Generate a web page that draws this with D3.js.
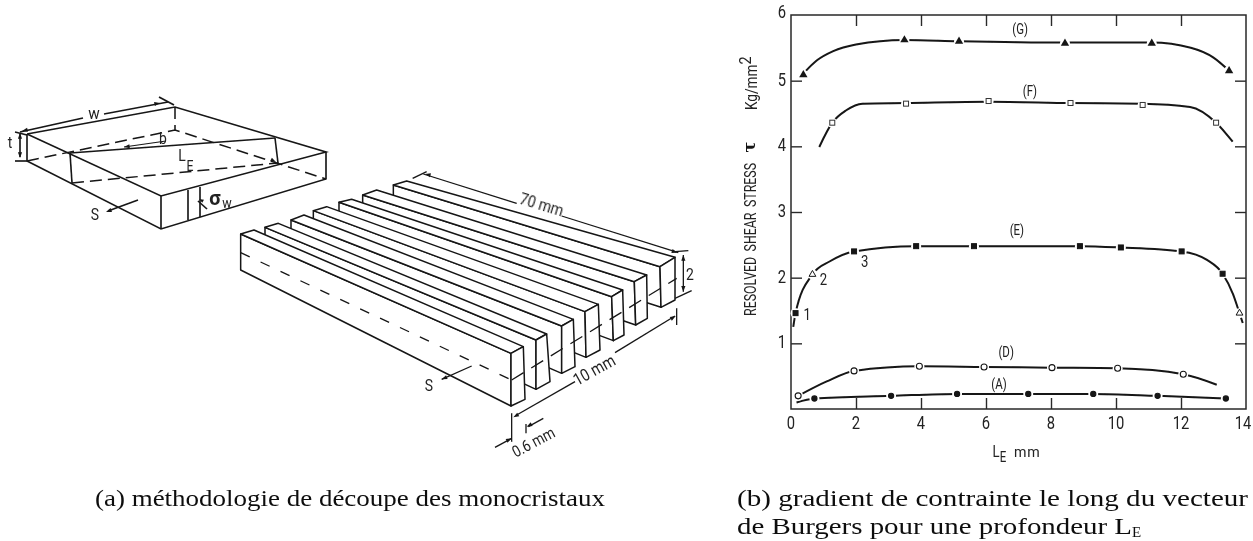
<!DOCTYPE html>
<html><head><meta charset="utf-8">
<script src="https://cdn.jsdelivr.net/npm/d3@7/dist/d3.min.js"></script>
<style>
html,body{margin:0;padding:0;background:#fff}
svg{display:block}
.n{font-family:"Roboto","Liberation Sans",sans-serif;fill:#222;stroke:none}
.cap{font-family:"Liberation Serif",serif;fill:#111;font-size:24px}
</style></head><body>
<svg id="c" width="1253" height="541"></svg>
<script>
// ---- chart data ----
const xTicks=[0,2,4,6,8,10,12,14];
const yTicks=[1,2,3,4,5,6];
const seriesG_line=[[0.42,5.13],[0.8,5.31],[1.3,5.45],[2,5.55],[3.49,5.62],[5.17,5.6],[8.43,5.58],[11.1,5.58],[12.3,5.5],[13,5.35],[13.48,5.15]];
const seriesG_pts=[[0.38,5.09],[3.49,5.62],[5.17,5.6],[8.43,5.57],[11.1,5.57],[13.48,5.15]];
const seriesF_line=[[0.87,3.99],[1.27,4.36],[1.7,4.55],[2.2,4.65],[3.54,4.66],[6.08,4.68],[8.6,4.66],[10.82,4.65],[12.28,4.6],[13.08,4.36],[13.59,4.07]];
const seriesF_pts=[[1.27,4.36],[3.54,4.65],[6.08,4.69],[8.6,4.66],[10.82,4.63],[13.08,4.36]];
const seriesE_line=[[0.07,1.25],[0.14,1.46],[0.66,2.05],[1.2,2.25],[1.94,2.4],[3.85,2.48],[5.63,2.48],[8.89,2.48],[10.15,2.46],[12.02,2.4],[12.8,2.27],[13.28,2.06],[13.6,1.75],[13.8,1.46],[13.9,1.31]];
const seriesE_sq=[[0.14,1.46],[1.94,2.4],[3.85,2.48],[5.63,2.48],[8.89,2.48],[10.15,2.46],[12.02,2.4],[13.28,2.06]];
const seriesE_tri=[[0.66,2.05],[13.8,1.46]];
const seriesD_line=[[0.22,0.2],[1.1,0.42],[1.94,0.58],[3.95,0.65],[5.94,0.64],[8.03,0.63],[10.05,0.62],[12.07,0.53],[13.1,0.37]];
const seriesD_pts=[[0.22,0.2],[1.94,0.58],[3.95,0.65],[5.94,0.64],[8.03,0.63],[10.05,0.62],[12.07,0.53]];
const seriesA_line=[[0.17,0.1],[0.72,0.16],[3.08,0.2],[5.11,0.23],[7.3,0.23],[9.3,0.23],[11.28,0.2],[13.38,0.16]];
const seriesA_pts=[[0.72,0.16],[3.08,0.2],[5.11,0.23],[7.3,0.23],[9.3,0.23],[11.28,0.2],[13.38,0.16]];
const curveLabels=[["(G)",7.05,5.79],["(F)",7.35,4.85],["(E)",6.95,2.73],["(D)",6.62,0.87],["(A)",6.4,0.38]];
const pointLabels=[["1",0.5,1.44],["2",1.0,1.98],["3",2.27,2.25]];

// ---- drawing geometry of the two sketches ----
const slabSolid=[
 [[27,134],[175,107],[326,152],[161,196],[27,134]],
 [[27,134],[27,161],[161,229],[326,179],[326,152]],
 [[161,196],[161,229]],
 [[70,153],[275,138]],[[70,153],[72,183]],[[275,138],[278,163]],
 [[188,190],[188,220]],[[200,187],[200,217]],
 [[104,114],[168,102]],[[159,97],[174,105]],[[20,132],[83,118]],
 [[15,132],[27,135]],[[15,161],[27,161]],[[20,134],[20,157]],
 [[138,200],[108,211]],[[198,201],[207,209]]
];
const slabDashed=[
 [[27,161],[175,130],[326,179]],[[175,107],[175,130]],[[72,183],[278,163]]
];
const slabArrows=[[[166,141],[124,147]]];
const barBack=[[[32,192],[72,180]],[[105,172],[145,160]],[[183,150],[222,135]],[[250,122],[290,110]],[[327,97],[365,88]],[[398,75],[440,60]],[[490,45],[530,33]]];
const barFrontTop=[[[843,550],[880,530]],[[918,510],[950,492]],[[995,468],[1030,448]],[[1065,425],[1105,403]],[[1145,380],[1178,360]],[[1213,335],[1250,315]],[[1290,290],[1335,262]]];
const barFrontBot=[[[843,708],[885,688]],[[918,658],[960,635]],[[995,610],[1035,590]],[[1068,562],[1110,540]],[[1150,512],[1182,495]],[[1217,465],[1252,445]],[[1293,412],[1335,390]]];

const svg=d3.select("#c");
const defs=svg.append("defs");
defs.append("filter").attr("id","soft").append("feGaussianBlur").attr("stdDeviation",0.4);
const x=d3.scaleLinear().domain([0,14]).range([791,1246]);
const y=d3.scaleLinear().domain([0,6]).range([409,15]);
const ink="#151515";
const line=d3.line().x(d=>x(d[0])).y(d=>y(d[1])).curve(d3.curveMonotoneX);
const root=svg.append("g").attr("filter","url(#soft)");

// narrow label helper
function nt(parent,s,xp,yp,size,opt={}){
  const sx=opt.sx||0.82;
  return parent.append("text").attr("class","n")
    .attr("transform",`translate(${xp},${yp}) rotate(${opt.rot||0}) scale(${sx},1)`)
    .attr("font-size",size).attr("text-anchor",opt.anchor||"middle")
    .attr("font-family",opt.fam||null).attr("font-weight",opt.w||null).text(s);
}

// frame and axes
const g=root.append("g");
g.append("rect").attr("x",x(0)).attr("y",y(6)).attr("width",x(14)-x(0)).attr("height",y(0)-y(6)).attr("fill","none").attr("stroke","#2a2a2a").attr("stroke-width",1.5);
function ax(gen,t,vals){
  const a=g.append("g").attr("transform",t).call(gen.tickValues(vals).tickSize(-11).tickPadding(0).tickFormat(""));
  a.select(".domain").remove();
  a.selectAll("line").attr("stroke","#2a2a2a").attr("stroke-width",1.4);
}
const inner=xTicks.slice(1,-1), innerY=yTicks.slice(0,-1);
ax(d3.axisBottom(x),`translate(0,${y(0)})`,inner);
ax(d3.axisTop(x),`translate(0,${y(6)})`,inner);
ax(d3.axisLeft(y),`translate(${x(0)},0)`,innerY);
ax(d3.axisRight(y),`translate(${x(14)},0)`,innerY);
xTicks.forEach(d=>nt(g,d,Math.min(x(d),1243),429,18));
yTicks.forEach(d=>nt(g,d,782,y(d)+ (d===6?3:5),18));

// lines and markers
[seriesG_line,seriesF_line,seriesE_line,seriesD_line,seriesA_line].forEach(s=>{
  g.append("path").datum(s).attr("d",line).attr("fill","none").attr("stroke",ink).attr("stroke-width",2);
});
[seriesG_pts,seriesF_pts,seriesE_sq,seriesE_tri,seriesD_pts,seriesA_pts].forEach(s=>{
  g.selectAll(null).data(s).join("circle").attr("cx",d=>x(d[0])).attr("cy",d=>y(d[1])).attr("r",5).attr("fill","#fff");
});
function tri(data,fill,r){
  const sym=d3.symbol().type(d3.symbolTriangle).size(r);
  g.selectAll(null).data(data).join("path").attr("d",sym).attr("transform",d=>`translate(${x(d[0])},${y(d[1])})`)
   .attr("fill",fill).attr("stroke",fill==="#fff"?ink:"none").attr("stroke-width",1);
}
function sq(data,fill,s){
  g.selectAll(null).data(data).join("rect").attr("x",d=>x(d[0])-s/2).attr("y",d=>y(d[1])-s/2).attr("width",s).attr("height",s)
   .attr("fill",fill).attr("stroke",fill==="#fff"?"#333":ink).attr("stroke-width",1);
}
function circ(data,fill,r){
  g.selectAll(null).data(data).join("circle").attr("cx",d=>x(d[0])).attr("cy",d=>y(d[1])).attr("r",r)
   .attr("fill",fill).attr("stroke",ink).attr("stroke-width",1.1);
}
tri(seriesG_pts,ink,30);
sq(seriesF_pts,"#fff",5);
sq(seriesE_sq,ink,5);
tri(seriesE_tri,"#fff",20);
circ(seriesD_pts,"#fff",3);
circ(seriesA_pts,ink,2.6);

curveLabels.forEach(d=>nt(g,d[0],x(d[1]),y(d[2])+5,14));
pointLabels.forEach(d=>nt(g,d[0],x(d[1]),y(d[2])+6,16));

// axis titles
g.append("text").attr("class","n").attr("transform","translate(756,316) rotate(-90)").attr("font-size",16)
 .attr("word-spacing",3).attr("textLength",153).attr("lengthAdjust","spacingAndGlyphs").text("RESOLVED SHEAR STRESS");
g.append("text").attr("transform","translate(755,147) rotate(-90)").attr("text-anchor","middle").attr("font-family","DejaVu Serif").attr("font-weight","bold").attr("font-size",16).attr("fill",ink).text("τ");
const t2=g.append("text").attr("class","n").attr("transform","translate(757,110) rotate(-90) scale(0.85,1)").attr("font-size",16).text("Kg/mm");
t2.append("tspan").attr("dy",-6).attr("font-size",17).text("2");
nt(g,"L",996,457,16);nt(g,"E",1003,462,14);
g.append("text").attr("class","n").attr("transform","translate(1014,457) scale(0.95,1)").attr("font-size",15).attr("letter-spacing",0.8).text("mm");

// ---- sketches ----
const px=d3.scaleIdentity(), py=d3.scaleIdentity();
const pl=d3.line().x(d=>px(d[0])).y(d=>py(d[1]));
const sk=root.append("g").attr("fill","none").attr("stroke",ink);
sk.selectAll(null).data(slabSolid).join("path").attr("d",pl).attr("stroke-width",1.6);
sk.selectAll(null).data(slabDashed).join("path").attr("d",pl).attr("stroke-width",1.5).attr("stroke-dasharray","12 6");
sk.selectAll(null).data(slabArrows).join("path").attr("d",pl).attr("stroke-width",1.2);
function head(a,b,sz=6){
  const ang=Math.atan2(b[1]-a[1],b[0]-a[0]);
  const p=[[b[0],b[1]],[b[0]-sz*Math.cos(ang-0.35),b[1]-sz*Math.sin(ang-0.35)],[b[0]-sz*Math.cos(ang+0.35),b[1]-sz*Math.sin(ang+0.35)]];
  root.append("path").attr("d",pl(p)+"Z").attr("fill",ink);
}
head([83,118],[22,131]);head([104,114],[160,103]);head([166,141],[124,147]);
head([20,140],[20,133]);head([20,150],[20,158]);head([138,200],[106,212]);
head([268,158],[276,162]);head([210,205],[199,199],5);

const lab=root.append("g");
nt(lab,"w",94,119,17,{sx:.9});nt(lab,"t",10,148,17);nt(lab,"b",163,144,17);
nt(lab,"L",182,161,17);nt(lab,"E",190,171,15);nt(lab,"S",95,220,17);
nt(lab,"σ",215,205,20,{fam:"DejaVu Serif",w:"bold",sx:1});nt(lab,"w",227,208,14,{sx:.9});

// bars: listed as 3x crop pixels, mapped to the page by these scales
const zx=d3.scaleLinear().domain([0,3]).range([230,231]), zy=d3.scaleLinear().domain([0,3]).range([170,171]);
const zl=d3.line().x(d=>zx(d[0])).y(d=>zy(d[1]));
const bars=root.append("g").attr("fill","#fff").attr("stroke",ink).attr("stroke-width",1.5).attr("stroke-linejoin","round");
d3.range(6,-1,-1).forEach(i=>{
  const b=barBack[i], f=barFrontTop[i], fb=barFrontBot[i];
  bars.append("path").attr("d",zl([b[0],[b[0][0],b[0][1]+108],fb[0],f[0]])+"Z");
  bars.append("path").attr("d",zl([b[0],b[1],f[1],f[0]])+"Z");
  bars.append("path").attr("d",zl([f[0],fb[0],fb[1],f[1]])+"Z");
});
const over=root.append("g").attr("fill","none").attr("stroke",ink);
// hidden mid-plane dashes
over.append("path").attr("d",zl([[32,248],[845,630]])).attr("stroke-dasharray","10 12").attr("stroke-width",1.3);
over.append("path").attr("d",zl([[845,630],[1340,325]])).attr("stroke-dasharray","14 9").attr("stroke-width",1.3);
// dimension lines
const dims=[
 [[580,12],[860,100]],[[995,138],[1345,248]],[[548,25],[590,5]],[[1335,245],[1375,242]],[[1335,385],[1385,362]],
 [[1360,255],[1360,365]],[[845,730],[845,815]],[[860,735],[1035,635]],[[1155,548],[1335,438]],[[1340,415],[1340,465]],
 [[795,832],[845,805]],[[895,770],[940,745]],[[888,762],[888,790]],[[635,628],[725,588]]
];
over.selectAll(null).data(dims).join("path").attr("d",zl).attr("stroke-width",1.3);
function zh(a,b){head([zx(a[0]),zy(a[1])],[zx(b[0]),zy(b[1])]);}
zh([620,20],[585,12]);zh([1300,235],[1342,248]);zh([1360,280],[1360,255]);zh([1360,340],[1360,365]);
zh([880,725],[850,742]);zh([1320,448],[1337,438]);zh([820,817],[845,805]);zh([915,757],[890,770]);zh([665,615],[635,628]);
nt(lab,"70 mm",540,210,17,{rot:17,sx:.85});nt(lab,"2",690,280,17,{rot:0});nt(lab,"S",429,391,17);
nt(lab,"10 mm",597,375,17,{rot:-29,sx:.85});nt(lab,"0.6 mm",536,447,16,{rot:-28,sx:.85});

// captions
const caps=svg.append("g").attr("filter","url(#soft)");
caps.append("text").attr("class","cap").attr("x",95).attr("y",506).attr("textLength",510).attr("lengthAdjust","spacingAndGlyphs").text("(a) méthodologie de découpe des monocristaux");
caps.append("text").attr("class","cap").attr("x",737).attr("y",506).attr("textLength",511).attr("lengthAdjust","spacingAndGlyphs").text("(b) gradient de contrainte le long du vecteur");
caps.append("text").attr("class","cap").attr("x",737).attr("y",534).attr("textLength",395).attr("lengthAdjust","spacingAndGlyphs").text("de Burgers pour une profondeur L");
caps.append("text").attr("class","cap").attr("x",1132).attr("y",537).attr("font-size",15).attr("style","font-size:15px").text("E");
</script>
</body></html>
